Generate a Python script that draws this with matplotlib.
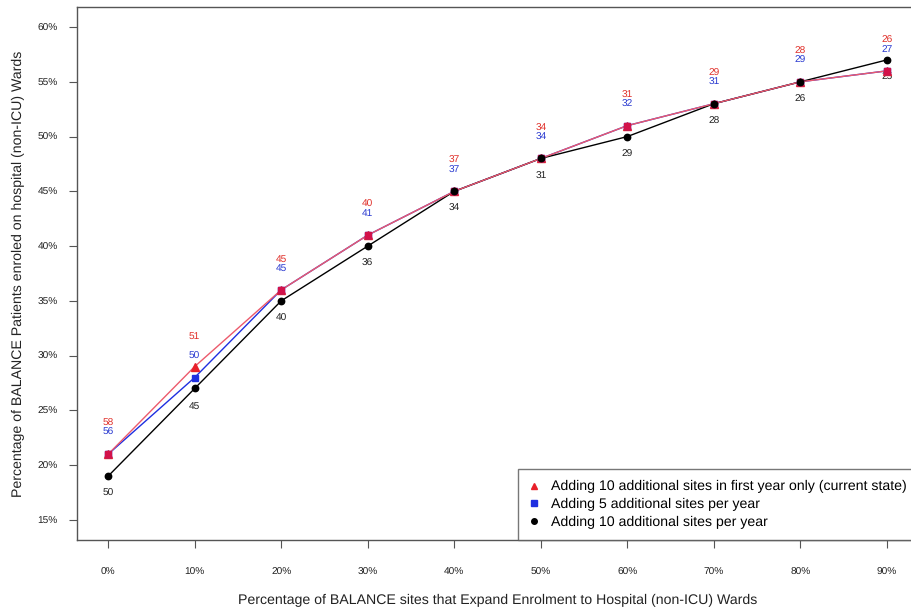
import matplotlib
matplotlib.use("Agg")
import matplotlib.pyplot as plt
import numpy as np
from matplotlib.lines import Line2D

plt.rcParams['font.family'] = ['Liberation Sans', 'DejaVu Sans']
plt.rcParams['text.hinting'] = 'no_hinting'

x_pct = [0, 10, 20, 30, 40, 50, 60, 70, 80, 90]
x_ticklabels = ["0%", "10%", "20%", "30%", "40%", "50%", "60%", "70%", "80%", "90%"]
y_ticks = [15, 20, 25, 30, 35, 40, 45, 50, 55, 60]
y_ticklabels = ["15%", "20%", "25%", "30%", "35%", "40%", "45%", "50%", "55%", "60%"]

red_vals = [21, 29, 36, 41, 45, 48, 51, 53, 55, 56]
red_labels = [58, 51, 45, 40, 37, 34, 31, 29, 28, 26]
blue_vals = [21, 28, 36, 41, 45, 48, 51, 53, 55, 56]
blue_labels = [56, 50, 45, 41, 37, 34, 32, 31, 29, 27]
black_vals = [19, 27, 35, 40, 45, 48, 50, 53, 55, 57]
black_labels = [50, 45, 40, 36, 34, 31, 29, 28, 26, 25]

legend_labels = ["Adding 10 additional sites in first year only (current state)",
                 "Adding 5 additional sites per year",
                 "Adding 10 additional sites per year"]

RED = "#e8202a"
RED_LINE = "#ec5a6c"
BLUE = "#1f2fe0"
CRIMSON = "#d3124a"

fig = plt.figure(figsize=(9.11, 6.10), dpi=100)
ax = fig.add_axes([0.0845, 0.1148, 1.0077 - 0.0845, 0.9885 - 0.1148])

ax.plot(x_pct, blue_vals, color=BLUE, lw=1.0, zorder=2)
ax.plot(x_pct, red_vals, color=RED_LINE, lw=1.0, zorder=3)
ax.plot(x_pct, black_vals, color="black", lw=1.0, zorder=2.5)

ax.plot(x_pct, red_vals, ls="none", marker="^", ms=6, color=RED, zorder=4)
ax.plot(x_pct, blue_vals, ls="none", marker="s", ms=5, color=BLUE, zorder=4.5)
same = np.array(red_vals) == np.array(blue_vals)
ax.plot(np.array(x_pct)[same], np.array(red_vals)[same], ls="none", marker="s",
        ms=5, color=CRIMSON, zorder=5)
ax.plot(x_pct, black_vals, ls="none", marker="o", ms=4.6, color="black", zorder=6)

for xi, v, lab in zip(x_pct, red_vals, red_labels):
    ax.annotate(str(lab), (xi, v), xytext=(0, 22), textcoords="offset points",
                ha="center", va="center", fontsize=7.3, color="#e0302a")
for xi, v, lab in zip(x_pct, blue_vals, blue_labels):
    ax.annotate(str(lab), (xi, v), xytext=(0, 15.5), textcoords="offset points",
                ha="center", va="center", fontsize=7.3, color="#2a3ad0")
for xi, v, lab in zip(x_pct, black_vals, black_labels):
    ax.annotate(str(lab), (xi, v), xytext=(0, -12.5), textcoords="offset points",
                ha="center", va="center", fontsize=7.3, color="#222222")

ax.set_xlim(-3.6, 93.6)
ax.set_ylim(13.17, 61.83)
ax.set_xticks(x_pct)
ax.set_xticklabels(x_ticklabels)
ax.set_yticks(y_ticks)
ax.set_yticklabels(y_ticklabels)
ax.tick_params(axis="both", labelsize=7.3, length=6, width=0.8, color="#555555",
               labelcolor="#222222")
ax.tick_params(axis="x", pad=14)
ax.tick_params(axis="y", pad=8)
for s in ax.spines.values():
    s.set_color("#555555")
    s.set_linewidth(1.0)

ax.set_xlabel("Percentage of BALANCE sites that Expand Enrolment to Hospital (non-ICU) Wards",
              fontsize=10.2, labelpad=12, color="#222222")
ax.set_ylabel("Percentage of BALANCE Patients enroled on hospital (non-ICU) Wards",
              fontsize=10.2, labelpad=9, color="#222222")

handles = [Line2D([], [], ls="none", marker="^", ms=5, color=RED),
           Line2D([], [], ls="none", marker="s", ms=4, color=BLUE),
           Line2D([], [], ls="none", marker="o", ms=4, color="black")]
leg = ax.legend(handles, legend_labels, loc="lower right", bbox_to_anchor=(1.0, 0.0),
                fontsize=10.2, frameon=True, fancybox=False, borderpad=0.8,
                handlelength=0.6, handletextpad=0.9, labelspacing=0.32,
                borderaxespad=0.0)
leg.get_frame().set_edgecolor("#555555")
leg.get_frame().set_linewidth(1.0)

fig.savefig("out.png", dpi=100)
